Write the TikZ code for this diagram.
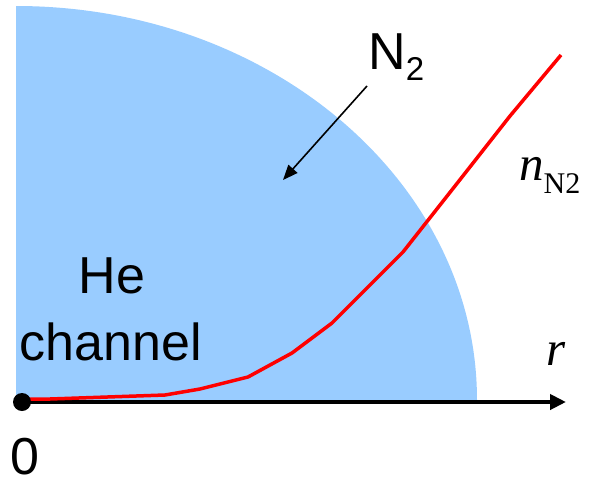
\documentclass[tikz,border=0pt]{standalone}
\usepackage{fontspec}
\setmainfont{Liberation Sans}
\newfontfamily\timesfont{Liberation Serif}
\usetikzlibrary{calc,arrows.meta}
\usetikzlibrary{positioning}
\definecolor{channelblue}{RGB}{153,204,255}
\tikzset{
  biglabel/.style={inner sep=0pt, font=\fontsize{52}{60}\selectfont},
  mathlabel/.style={inner sep=0pt, font=\timesfont\itshape\fontsize{49}{55}\selectfont},
}
\begin{document}
\begin{tikzpicture}[x=1pt,y=-1pt]
\useasboundingbox (0,0) rectangle (592,477);
\fill[channelblue] (16,400) -- (16,6) arc[start angle=-90, end angle=0, x radius=461, y radius=394] -- cycle;
\coordinate (axisstart) at (17,402);
\coordinate (axisend) at (566,402);
\draw[line width=4pt, -{Triangle[length=16pt,width=15pt]}] (axisstart) -- (axisend);
\draw[red, line width=3.5pt, line join=round] (17,399) -- (50,399) -- (165,395) -- (200,389) -- (248,377) -- (292,353) -- (332,323) -- (403,252) -- (455,186) -- (510,116) -- (561,55);
\node[circle, fill=black, inner sep=0pt, minimum size=18pt](o) at (22,402){};
\node[biglabel, anchor=base, text depth=0pt](zero) at (24.5,474){0};
\node[biglabel, anchor=base](he) at (112,293){He};
\node[biglabel, anchor=base](channel) at (111,360){channel};
\node[biglabel, anchor=base west](ntwo) at (368,69){N\raisebox{-11pt}{\fontsize{33}{33}\selectfont 2}};
\coordinate (arrowtail) at (367,86);
\coordinate (arrowtip) at (283,180);
\draw[line width=1.6pt, -{Triangle[length=15pt,width=12pt]}] (arrowtail) -- (arrowtip);
\node[mathlabel, anchor=base west](dens) at (519,180){n\raisebox{-13pt}{\upshape\fontsize{30}{30}\selectfont N2}};
\node[mathlabel, anchor=base](radius) at (556,365){r};
\end{tikzpicture}
\end{document}
